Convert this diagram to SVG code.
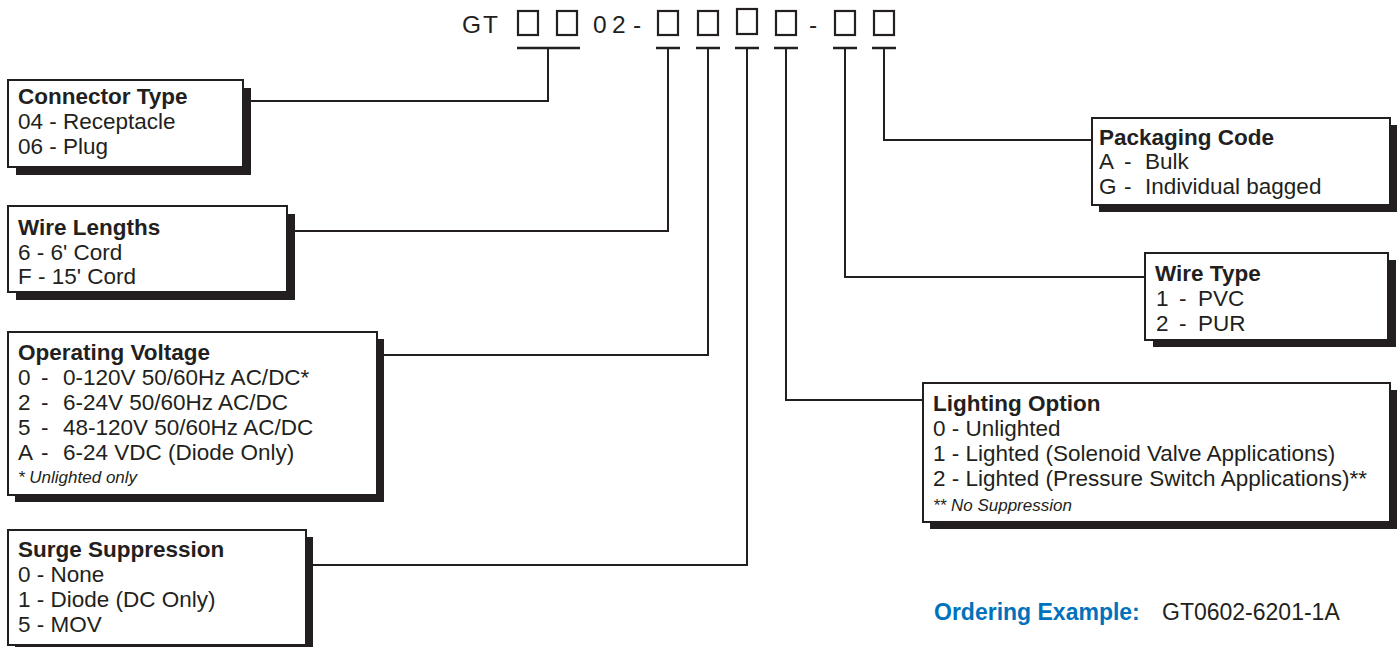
<svg xmlns="http://www.w3.org/2000/svg" width="1399" height="647" viewBox="0 0 1399 647">
<style>
.t{font-family:"Liberation Sans",Arial,sans-serif;font-size:22.5px;fill:#231f20}
.h{font-size:24.5px}
.b{font-weight:bold}
.s{font-size:17px;font-style:italic}
.o{font-size:23px}
.box{fill:#fff;stroke:#231f20;stroke-width:2}
.sh{fill:#231f20}
.ln{fill:none;stroke:#231f20;stroke-width:2}
.sq{fill:none;stroke:#231f20;stroke-width:2.2}
.ul{stroke:#231f20;stroke-width:2.5}
</style>
<rect width="1399" height="647" fill="#fff"/>
<g id="header">
<text class="t h" y="33"><tspan x="462">G</tspan><tspan x="483">T</tspan><tspan x="593">0</tspan><tspan x="612">2</tspan><tspan x="633">-</tspan><tspan x="809">-</tspan></text>
<rect class="sq" x="518" y="11" width="20" height="24"/>
<rect class="sq" x="557" y="11" width="20" height="24"/>
<rect class="sq" x="658" y="11" width="20" height="24"/>
<rect class="sq" x="698" y="11" width="20" height="24"/>
<rect class="sq" x="737" y="9" width="20" height="25"/>
<rect class="sq" x="776" y="11" width="20" height="24"/>
<rect class="sq" x="835" y="11" width="20" height="24"/>
<rect class="sq" x="874" y="11" width="20" height="24"/>
<line class="ul" x1="517" y1="48" x2="580" y2="48"/>
<line class="ul" x1="656" y1="48" x2="680" y2="48"/>
<line class="ul" x1="696" y1="48" x2="720" y2="48"/>
<line class="ul" x1="735" y1="48" x2="759" y2="48"/>
<line class="ul" x1="774" y1="48" x2="798" y2="48"/>
<line class="ul" x1="833" y1="48" x2="857" y2="48"/>
<line class="ul" x1="872" y1="48" x2="896" y2="48"/>
</g>
<g id="connectors">
<polyline class="ln" points="243,101 548,101 548,48"/>
<polyline class="ln" points="287,231 668,231 668,48"/>
<polyline class="ln" points="377,355 708,355 708,48"/>
<polyline class="ln" points="306,565 747,565 747,48"/>
<polyline class="ln" points="1092,140 884,140 884,48"/>
<polyline class="ln" points="1145,277 845,277 845,48"/>
<polyline class="ln" points="923,400 786,400 786,48"/>
</g>
<g id="connector-type">
<rect class="sh" x="16" y="88" width="235" height="87"/>
<rect class="box" x="8" y="80" width="235" height="87"/>
<text class="t b" x="18" y="104">Connector Type</text>
<text class="t" x="18" y="129">04 - Receptacle</text>
<text class="t" x="18" y="154">06 - Plug</text>
</g>
<g id="wire-lengths">
<rect class="sh" x="16" y="214" width="279" height="86"/>
<rect class="box" x="8" y="206" width="279" height="86"/>
<text class="t b" x="18" y="235">Wire Lengths</text>
<text class="t" x="18" y="260">6 - 6' Cord</text>
<text class="t" x="18" y="284">F - 15' Cord</text>
</g>
<g id="operating-voltage">
<rect class="sh" x="15" y="339" width="369" height="163"/>
<rect class="box" x="8" y="332" width="369" height="163"/>
<text class="t b" x="18" y="360">Operating Voltage</text>
<text class="t" y="385"><tspan x="18">0</tspan><tspan x="41">-</tspan><tspan x="63">0-120V 50/60Hz AC/DC*</tspan></text>
<text class="t" y="410"><tspan x="18">2</tspan><tspan x="41">-</tspan><tspan x="63">6-24V 50/60Hz AC/DC</tspan></text>
<text class="t" y="435"><tspan x="18">5</tspan><tspan x="41">-</tspan><tspan x="63">48-120V 50/60Hz AC/DC</tspan></text>
<text class="t" y="460"><tspan x="18">A</tspan><tspan x="41">-</tspan><tspan x="63">6-24 VDC (Diode Only)</tspan></text>
<text class="t s" x="18" y="483">* Unlighted only</text>
</g>
<g id="surge-suppression">
<rect class="sh" x="15" y="537" width="298" height="115"/>
<rect class="box" x="8" y="530" width="298" height="115"/>
<text class="t b" x="18" y="557">Surge Suppression</text>
<text class="t" x="18" y="582">0 - None</text>
<text class="t" x="18" y="607">1 - Diode (DC Only)</text>
<text class="t" x="18" y="632">5 - MOV</text>
</g>
<g id="packaging-code">
<rect class="sh" x="1099" y="125" width="298" height="87"/>
<rect class="box" x="1092" y="118" width="298" height="87"/>
<text class="t b" x="1099" y="145">Packaging Code</text>
<text class="t" y="169"><tspan x="1099">A</tspan><tspan x="1124">-</tspan><tspan x="1145">Bulk</tspan></text>
<text class="t" y="194"><tspan x="1099">G</tspan><tspan x="1124">-</tspan><tspan x="1145">Individual bagged</tspan></text>
</g>
<g id="wire-type">
<rect class="sh" x="1153" y="260" width="243" height="87"/>
<rect class="box" x="1145" y="253" width="243" height="87"/>
<text class="t b" x="1155" y="281">Wire Type</text>
<text class="t" y="306"><tspan x="1156">1</tspan><tspan x="1179">-</tspan><tspan x="1198">PVC</tspan></text>
<text class="t" y="331"><tspan x="1156">2</tspan><tspan x="1179">-</tspan><tspan x="1198">PUR</tspan></text>
</g>
<g id="lighting-option">
<rect class="sh" x="930" y="390" width="467" height="139"/>
<rect class="box" x="923" y="383" width="467" height="139"/>
<text class="t b" x="933" y="411">Lighting Option</text>
<text class="t" x="933" y="436">0 - Unlighted</text>
<text class="t" x="933" y="461">1 - Lighted (Solenoid Valve Applications)</text>
<text class="t" x="933" y="486">2 - Lighted (Pressure Switch Applications)**</text>
<text class="t s" x="933" y="511">** No Suppression</text>
</g>
<g id="ordering-example">
<text class="t b o" x="934" y="620" style="fill:#0072bc">Ordering Example:</text>
<text class="t o" x="1162" y="620">GT0602-6201-1A</text>
</g>
</svg>
